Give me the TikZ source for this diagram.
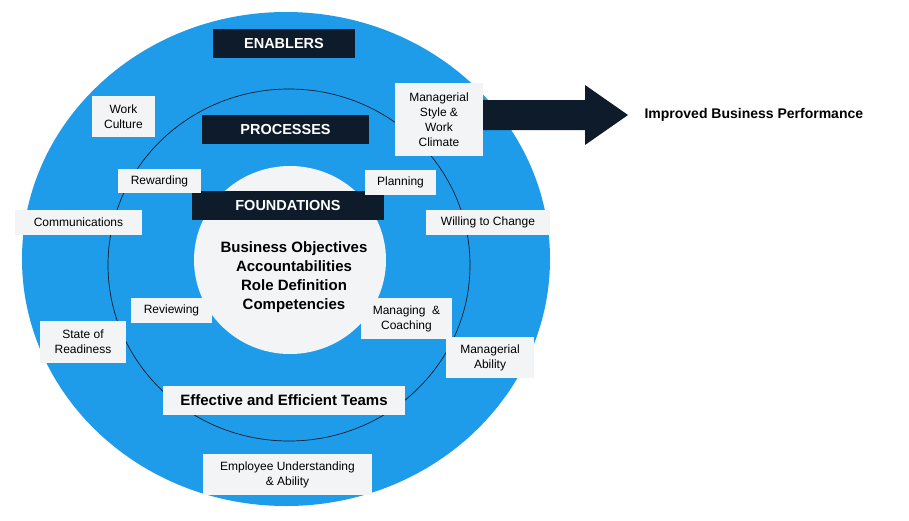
\documentclass[tikz,border=0pt]{standalone}
\usepackage{fontspec}
\setmainfont{Liberation Sans}
\begin{document}
\begin{tikzpicture}[x=1pt,y=-1pt,
  box/.style={fill=boxc,inner sep=0,align=center,font=\fontsize{12}{15}\selectfont},
  hdr/.style={fill=navy,text=white,inner sep=0,font=\fontsize{14.5}{17}\selectfont\bfseries},
  big/.style={font=\fontsize{15}{19}\selectfont\bfseries,align=center}]
\definecolor{blu}{HTML}{1E9BE9}
\definecolor{navy}{HTML}{0D1B2A}
\definecolor{boxc}{HTML}{F3F4F6}
\useasboundingbox (0,0) rectangle (909,520);
\fill[white] (0,0) rectangle (909,520);
\fill[blu] (286,259) ellipse [x radius=264, y radius=247];
\draw[navy,line width=0.7pt] (289,265) ellipse [x radius=181, y radius=176];
\fill[boxc] (290,260) ellipse [x radius=96, y radius=94];
% arrow
\fill[navy] (483,100) -- (585,100) -- (585,85) -- (628,115) -- (585,145) -- (585,130) -- (483,130) -- cycle;
\node[anchor=west,font=\fontsize{14}{17}\selectfont\bfseries] (ibp) at (641,115) {Improved Business Performance};
% headers
\node[hdr,minimum width=142,minimum height=29] (en) at (284,43.5) {ENABLERS};
\node[hdr,minimum width=167,minimum height=29] (pr) at (285.5,129.5) {PROCESSES};
\node[hdr,minimum width=192,minimum height=29] (fo) at (288,205.5) {FOUNDATIONS};
% boxes
\node[box,minimum width=63,minimum height=41] (wc) at (123.5,116.5) {Work\\Culture};
\node[box,minimum width=88,minimum height=73] (ms) at (439,119.5) {Managerial\\Style \&\\Work\\Climate};
\node[box,minimum width=83,minimum height=24] (rw) at (159.5,181) {Rewarding};
\node[box,minimum width=71,minimum height=25] (pl) at (400.5,182.5) {Planning};
\node[box,minimum width=127,minimum height=25] (cm) at (78.5,222.5) {Communications};
\node[box,minimum width=124,minimum height=25] (wi) at (488,222.5) {Willing to Change};
\node[box,minimum width=81,minimum height=25] (rv) at (171.5,310.5) {Reviewing};
\node[box,minimum width=91,minimum height=41] (mc) at (406.5,318.5) {Managing \ \&\\Coaching};
\node[box,minimum width=86,minimum height=42] (sr) at (83,342) {State of\\Readiness};
\node[box,minimum width=88,minimum height=41] (ma) at (490,357.5) {Managerial\\Ability};
\node[box,minimum width=242,minimum height=29,font=\fontsize{15}{19}\selectfont\bfseries] (ef) at (284,400.5) {Effective and Efficient Teams};
\node[box,minimum width=169,minimum height=41] (eu) at (287.5,474.5) {Employee Understanding\\\& Ability};
\node[big] (core) at (294,277.5) {Business Objectives\\Accountabilities\\Role Definition\\Competencies};
\end{tikzpicture}
\end{document}
